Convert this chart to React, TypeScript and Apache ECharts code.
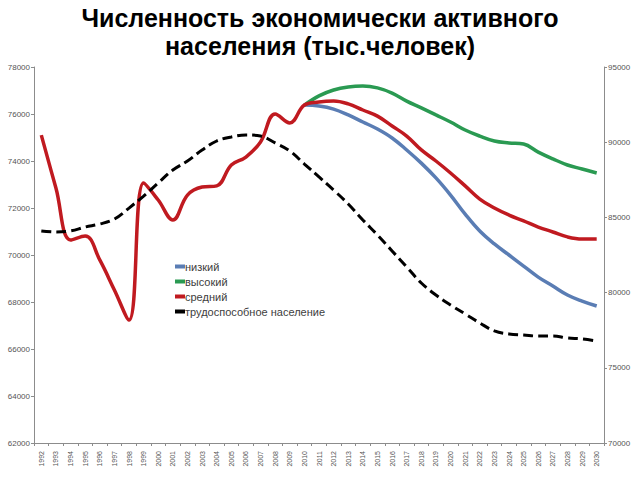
import React, { useEffect, useRef } from "react";
import * as echarts from "echarts";

const years = [
  "1992", "1993", "1994", "1995", "1996", "1997", "1998", "1999", "2000", "2001",
  "2002", "2003", "2004", "2005", "2006", "2007", "2008", "2009", "2010", "2011",
  "2012", "2013", "2014", "2015", "2016", "2017", "2018", "2019", "2020", "2021",
  "2022", "2023", "2024", "2025", "2026", "2027", "2028", "2029", "2030",
];

const seriesNames = ["низкий", "высокий", "средний", "трудоспособное население"];

// 1992-2009 empty for scenario lines
const lowValues: (number | null)[] = [
  null, null, null, null, null, null, null, null, null, null,
  null, null, null, null, null, null, null, null,
  76380, 76340, 76210, 75960, 75660, 75360, 74980, 74470, 73910, 73280,
  72550, 71740, 71020, 70470, 70000, 69530, 69060, 68680, 68300, 68040, 67830,
];

const highValues: (number | null)[] = [
  null, null, null, null, null, null, null, null, null, null,
  null, null, null, null, null, null, null, null,
  76380, 76770, 77020, 77150, 77190, 77110, 76890, 76550, 76260, 75960,
  75660, 75320, 75060, 74850, 74770, 74720, 74380, 74090, 73830, 73660, 73490,
];

const midValues: number[] = [
  75100, 72850, 70640, 70810, 69790, 68510, 67230, 73060, 72340, 71490,
  72550, 72890, 72940, 73830, 74170, 74810, 76000, 75620,
  76380, 76510, 76550, 76430, 76170, 75910, 75490, 75060, 74470, 74000,
  73490, 72940, 72380, 72000, 71700, 71450, 71190, 70980, 70770, 70680, 70680,
];

const workingAgeValues: number[] = [
  84100, 84030, 84100, 84360, 84560, 84890, 85620, 86420, 87290, 88150,
  88750, 89480, 90080, 90350, 90480, 90410, 89950, 89420,
  88550, 87690, 86820, 85890, 84830, 83830, 82770, 81700, 80640, 79840,
  79180, 78580, 77980, 77450, 77250, 77180, 77110, 77110, 76980, 76920, 76780,
];

const leftTicks = { min: 62000, max: 78000, interval: 2000 };
const rightTicks = { min: 70000, max: 95000, interval: 5000 };

const FONT = "Liberation Sans";

export default function App() {
  const ref = useRef<HTMLDivElement>(null);

  useEffect(() => {
    if (!ref.current) return;
    const chart = echarts.init(ref.current, null, { renderer: "svg" });
    const axisLineStyle = { color: "#8c8c8c", width: 1 };
    const axisLabelStyle = {
      fontSize: 8,
      color: "#555",
      fontFamily: FONT,
      formatter: (v: number) => String(v),
    };
    chart.setOption({
      animation: false,
      backgroundColor: "#fff",
      title: {
        text: "Численность экономически активного\nнаселения (тыс.человек)",
        left: "center",
        top: -1,
        textStyle: {
          fontSize: 25,
          fontWeight: "bold",
          fontFamily: FONT,
          color: "#000",
          lineHeight: 28,
        },
      },
      legend: {
        orient: "vertical",
        left: 170,
        top: 256,
        itemWidth: 10,
        itemHeight: 4,
        itemGap: 4,
        icon: "rect",
        data: seriesNames,
        textStyle: { fontSize: 11, color: "#404040", fontFamily: FONT, padding: [0, 0, 0, -5], lineHeight: 11 },
      },
      grid: { left: 34, right: 36, top: 67, bottom: 37, containLabel: false },
      xAxis: {
        type: "category",
        data: years,
        boundaryGap: true,
        axisLine: { lineStyle: axisLineStyle },
        axisTick: { show: true, length: 3, lineStyle: axisLineStyle },
        axisLabel: { rotate: 90, fontSize: 7, color: "#555", fontFamily: FONT, margin: 8, interval: 0 },
        splitLine: { show: false },
      },
      yAxis: [
        {
          type: "value",
          position: "left",
          ...leftTicks,
          axisLine: { show: true, lineStyle: axisLineStyle },
          axisTick: { show: true, length: 3, lineStyle: axisLineStyle },
          axisLabel: { ...axisLabelStyle, margin: 4 },
          splitLine: { show: false },
        },
        {
          type: "value",
          position: "right",
          ...rightTicks,
          axisLine: { show: true, lineStyle: axisLineStyle },
          axisTick: { show: true, length: 3, lineStyle: axisLineStyle },
          axisLabel: { ...axisLabelStyle, margin: 4 },
          splitLine: { show: false },
        },
      ],
      series: [
        {
          name: seriesNames[0],
          type: "line",
          yAxisIndex: 0,
          data: lowValues,
          smooth: 0.4,
          showSymbol: false,
          lineStyle: { color: "#5A7DB4", width: 3.5 },
          itemStyle: { color: "#5A7DB4" },
        },
        {
          name: seriesNames[1],
          type: "line",
          yAxisIndex: 0,
          data: highValues,
          smooth: 0.4,
          showSymbol: false,
          lineStyle: { color: "#2A9A52", width: 3.5 },
          itemStyle: { color: "#2A9A52" },
        },
        {
          name: seriesNames[2],
          type: "line",
          yAxisIndex: 0,
          data: midValues,
          smooth: 0.4,
          showSymbol: false,
          lineStyle: { color: "#C01A20", width: 3.5 },
          itemStyle: { color: "#C01A20" },
        },
        {
          name: seriesNames[3],
          type: "line",
          yAxisIndex: 1,
          data: workingAgeValues,
          smooth: 0.4,
          showSymbol: false,
          lineStyle: { color: "#000", width: 3, type: [10, 5] },
          itemStyle: { color: "#000" },
        },
      ],
    });
    return () => chart.dispose();
  }, []);

  return (
    <div
      ref={ref}
      style={{ position: "fixed", left: 0, top: 0, width: 640, height: 480, background: "#fff" }}
    />
  );
}
